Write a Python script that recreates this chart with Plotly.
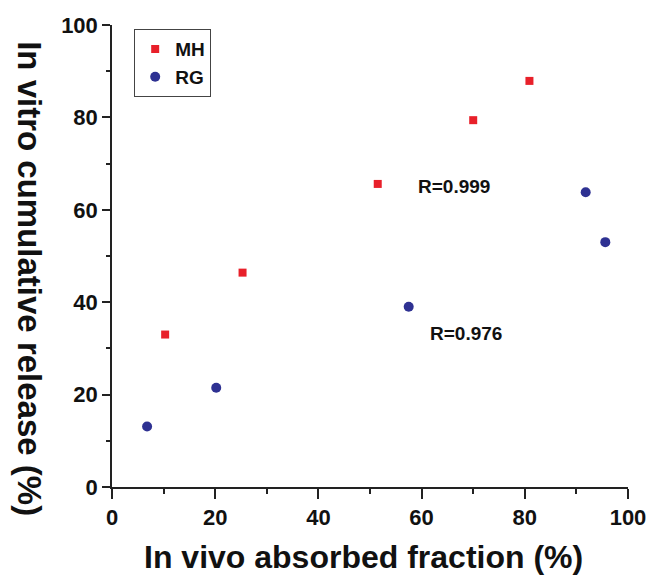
import plotly.graph_objects as go

mh_x = [10.3, 25.3, 51.5, 70.0, 80.9]
mh_y = [33.0, 46.4, 65.6, 79.4, 87.9]
rg_x = [6.8, 20.2, 57.5, 91.8, 95.6]
rg_y = [13.1, 21.5, 39.0, 63.8, 53.0]
x_ticks = [0, 20, 40, 60, 80, 100]
y_ticks = [0, 20, 40, 60, 80, 100]
r_labels = ["R=0.999", "R=0.976"]
r_pos_x = [66.2, 68.6]
r_pos_y = [65.1, 33.2]
x_title = "In vivo absorbed fraction (%)"
y_title = "In vitro cumulative release (%)"

fig = go.Figure()
fig.add_trace(go.Scatter(x=mh_x, y=mh_y, mode="markers", name="MH",
                         marker=dict(symbol="square", size=8, color="#E8202A")))
fig.add_trace(go.Scatter(x=rg_x, y=rg_y, mode="markers", name="RG",
                         marker=dict(symbol="circle", size=10, color="#2E3192")))

for t, ax_, ay_ in zip(r_labels, r_pos_x, r_pos_y):
    fig.add_annotation(x=ax_, y=ay_, text=t, showarrow=False, xanchor="center", yanchor="middle",
                       font=dict(family="Arial", size=19, color="#111", weight="bold"))

fig.add_annotation(xref="paper", yref="paper", x=0.488, y=-0.151, text=x_title, showarrow=False,
                   xanchor="center", yanchor="middle",
                   font=dict(family="Arial", size=32, color="#111", weight="bold"))
fig.add_annotation(xref="paper", yref="paper", x=-0.159, y=0.450, text=y_title, showarrow=False,
                   xanchor="center", yanchor="middle", textangle=90,
                   font=dict(family="Arial", size=33, color="#111", weight="bold"))

axis_common = dict(showline=True, linecolor="#222", linewidth=1.5, ticks="outside",
                   tickcolor="#222", tickwidth=1.5, showgrid=False, zeroline=False,
                   automargin=False,
                   tickfont=dict(family="Arial", size=22, color="#111", weight="bold"))

fig.update_xaxes(range=[0, 100], tickvals=x_ticks, ticktext=[str(v) for v in x_ticks], ticklen=10,
                 minor=dict(dtick=10, ticks="outside", ticklen=5, tickcolor="#222", tickwidth=1.5),
                 **axis_common)
fig.update_yaxes(range=[0, 100], tickvals=y_ticks, ticktext=[str(v) for v in y_ticks], ticklen=8,
                 minor=dict(dtick=10, ticks="outside", ticklen=4, tickcolor="#222", tickwidth=1.5),
                 **axis_common)

fig.update_layout(width=649, height=579, margin=dict(l=112, r=21, t=25, b=92),
                  plot_bgcolor="white", paper_bgcolor="white",
                  legend=dict(x=0.043, y=0.991, xanchor="left", yanchor="top",
                              bordercolor="#444", borderwidth=1, bgcolor="white",
                              font=dict(family="Arial", size=19, color="#111", weight="bold"),
                              itemwidth=30, tracegroupgap=0))

fig.write_html("out.html")
